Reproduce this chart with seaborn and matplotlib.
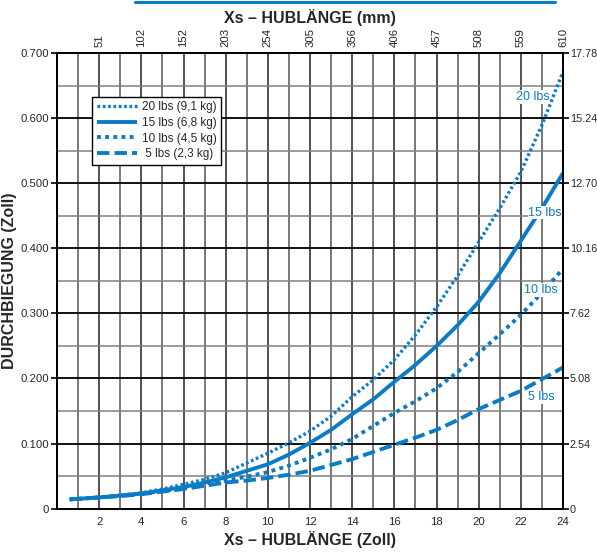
import matplotlib
matplotlib.use("Agg")
import matplotlib.pyplot as plt
from matplotlib.lines import Line2D
import numpy as np
import seaborn as sns

# Stroke (inches) and measured deflection (inches) per load
stroke_in = [0.6, 2, 3, 4, 5, 6, 7, 8, 9, 10, 11, 12, 13, 14, 15, 16, 17, 18, 19, 20, 21, 22, 23, 24]
defl_20lbs = [0.014, 0.017, 0.020, 0.024, 0.030, 0.037, 0.045, 0.055, 0.070, 0.085, 0.101, 0.119, 0.142,
              0.172, 0.198, 0.229, 0.267, 0.310, 0.358, 0.410, 0.462, 0.518, 0.590, 0.672]
defl_15lbs = [0.014, 0.017, 0.020, 0.023, 0.028, 0.033, 0.040, 0.048, 0.058, 0.068, 0.083, 0.101, 0.121,
              0.145, 0.168, 0.195, 0.221, 0.250, 0.282, 0.318, 0.362, 0.412, 0.462, 0.516]
defl_10lbs = [0.014, 0.017, 0.020, 0.023, 0.027, 0.032, 0.038, 0.043, 0.049, 0.056, 0.066, 0.078, 0.091,
              0.107, 0.127, 0.147, 0.165, 0.185, 0.210, 0.239, 0.268, 0.298, 0.332, 0.369]
defl_5lbs = [0.014, 0.017, 0.019, 0.022, 0.026, 0.030, 0.035, 0.040, 0.043, 0.047, 0.052, 0.058, 0.067,
             0.076, 0.087, 0.098, 0.109, 0.121, 0.136, 0.153, 0.167, 0.181, 0.199, 0.217]

legend_labels = ["20 lbs (9,1 kg)", "15 lbs (6,8 kg)", "10 lbs (4,5 kg)", " 5 lbs (2,3 kg)"]
curve_labels = ["20 lbs", "15 lbs", "10 lbs", "5 lbs"]

bottom_ticks = [2, 4, 6, 8, 10, 12, 14, 16, 18, 20, 22, 24]
top_tick_labels = ["51", "102", "152", "203", "254", "305", "356", "406", "457", "508", "559", "610"]
left_ticks = [0, 0.1, 0.2, 0.3, 0.4, 0.5, 0.6, 0.7]
left_tick_labels = ["0", "0.100", "0.200", "0.300", "0.400", "0.500", "0.600", "0.700"]
right_ticks = [0, 2.54, 5.08, 7.62, 10.16, 12.70, 15.24, 17.78]
right_tick_labels = ["0", "2.54", "5.08", "7.62", "10.16", "12.70", "15.24", "17.78"]

BLUE = "#0a7cc6"
TICK_FS = 8.2

sns.set_theme(style="white")
plt.rcParams["font.family"] = ["Liberation Sans", "DejaVu Sans"]

fig = plt.figure(figsize=(5.97, 5.52), dpi=100)
ax = fig.add_axes([0.0955, 0.0788, 0.8476, 0.8243])

series = [defl_20lbs, defl_15lbs, defl_10lbs, defl_5lbs]
styles = [
    dict(lw=2.4, dashes=(0.8, 0.8)),
    dict(lw=2.8, dashes=None),
    dict(lw=2.8, dashes=(1.0, 1.1)),
    dict(lw=2.8, dashes=(3.2, 1.3)),
]
for vals, lab, st in zip(series, legend_labels, styles):
    line_ax = sns.lineplot(x=stroke_in, y=vals, ax=ax, color=BLUE, lw=st["lw"], label=lab)
    ln = line_ax.get_lines()[-1]
    if st["dashes"] is not None:
        ln.set_dashes(st["dashes"])
    ln.set_dash_capstyle("butt")
    ln.set_solid_capstyle("butt")

ax.set_xlim(0, 24)
ax.set_ylim(0, 0.7)

# grid: every inch vertically, every 0.05 in horizontally
ax.set_xticks(bottom_ticks)
ax.set_xticks(np.arange(1, 24, 2), minor=True)
ax.set_xticklabels([str(t) for t in bottom_ticks], fontsize=TICK_FS)
ax.set_yticks(left_ticks)
ax.set_yticks(np.arange(0.05, 0.7, 0.1), minor=True)
ax.set_yticklabels(left_tick_labels, fontsize=TICK_FS)
ax.tick_params(axis="x", which="both", length=0, pad=6)
ax.tick_params(axis="y", which="major", length=4, width=1.2, color="black", direction="out", left=True, pad=1.5)
ax.tick_params(axis="y", which="minor", length=0)

for x in range(1, 24):
    ax.axvline(x, color="#222222" if x % 2 == 0 else "#555555", lw=1.1, zorder=0.5)
for y in np.arange(0.05, 0.7, 0.1):
    ax.axhline(y, color="#808080", lw=1.1, zorder=0.5)
for y in left_ticks[1:]:
    ax.axhline(y, color="#111111", lw=1.4, zorder=0.5)

for side in ["left", "bottom", "right", "top"]:
    ax.spines[side].set_color("black")
    ax.spines[side].set_linewidth(1.4)
    ax.spines[side].set_visible(True)

ax.set_xlabel("Xs – HUBLÄNGE (Zoll)", fontsize=11.5, fontweight="bold", labelpad=3)
ax.set_ylabel("DURCHBIEGUNG (Zoll)", fontsize=11.5, fontweight="bold", labelpad=3)

# metric stroke on top
top = ax.secondary_xaxis("top")
top.set_xticks(bottom_ticks)
top.set_xticklabels(top_tick_labels, rotation=90, fontsize=TICK_FS)
top.tick_params(length=0, pad=5)
top.set_xlabel("Xs – HUBLÄNGE (mm)", fontsize=11.5, fontweight="bold", labelpad=3)

# metric deflection on the right
right = ax.twinx()
right.set_ylim(0, 17.78)
right.set_yticks(right_ticks)
right.set_yticklabels(right_tick_labels, fontsize=7.8)
right.tick_params(axis="y", length=4, width=1.2, color="black", direction="out", right=True, pad=1)
right.grid(False)
for side in ["left", "bottom", "right", "top"]:
    right.spines[side].set_color("black")
    right.spines[side].set_linewidth(1.4)

# curve annotations
label_pos = [(22.55, 0.633), (23.15, 0.455), (22.95, 0.336), (22.95, 0.171)]
for (lx, ly), txt in zip(label_pos, curve_labels):
    ax.text(lx, ly, txt, color=BLUE, fontsize=9, ha="center", va="center",
            bbox=dict(boxstyle="square,pad=0.05", fc="white", ec="none"), zorder=3)

leg = ax.legend(loc="upper left", bbox_to_anchor=(0.069, 0.905), fontsize=8.5,
                frameon=True, fancybox=False, edgecolor="black", framealpha=1,
                handlelength=3.4, handletextpad=0.4, borderpad=0.4, labelspacing=0.3,
                borderaxespad=0)
leg.get_frame().set_linewidth(1.0)

# blue rule across the top of the page
fig.add_artist(Line2D([135 / 597, 555 / 597], [1 - 2 / 552, 1 - 2 / 552],
                      color=BLUE, lw=2.2, transform=fig.transFigure))

fig.savefig("out.png", dpi=100)
